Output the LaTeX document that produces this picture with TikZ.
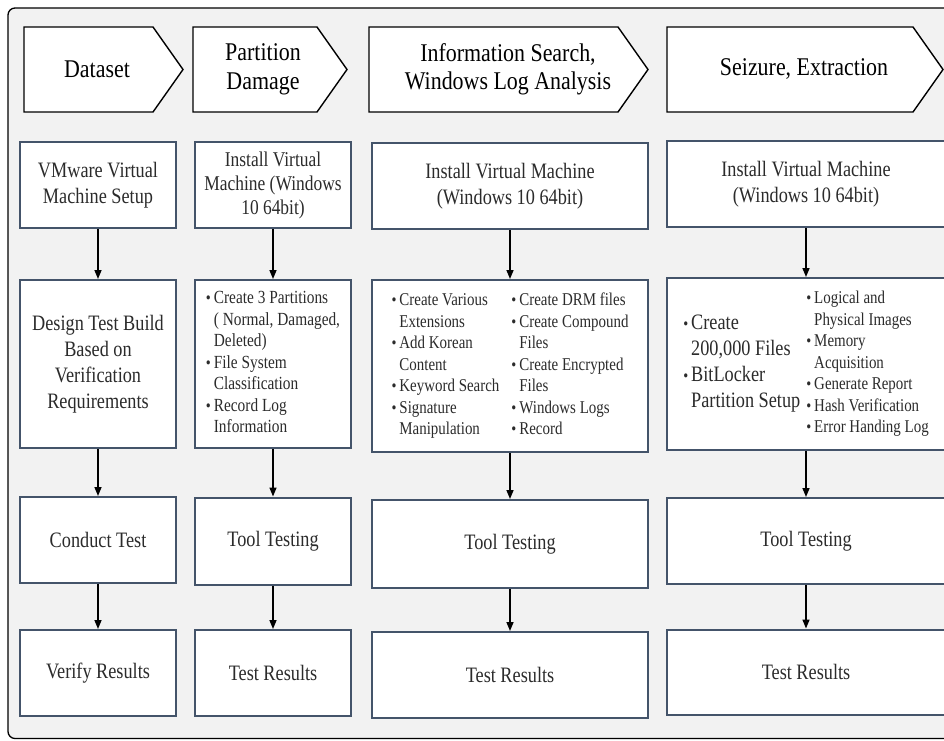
\documentclass[tikz,border=0pt]{standalone}
\usepackage{fontspec}
\setmainfont[FakeStretch=0.83]{Liberation Serif}
\newfontfamily\headfont[FakeStretch=0.86]{Liberation Serif}
\usepackage{xcolor}
\usetikzlibrary{arrows.meta, positioning}
\definecolor{panel}{HTML}{F2F2F2}
\definecolor{boxline}{HTML}{44546A}
\definecolor{ink}{HTML}{2B2B2B}
\def\headTop{27}
\def\headBot{112}
\def\tipLen{30}
\newcommand{\bul}{{\fontsize{17}{17}\selectfont\textbullet}}
\newcommand{\headarrow}[5]{%
% #1 = node name, #2 = left x, #3 = tip x, #4 = text x, #5 = text
\draw[headline]
(#2,\headTop) -- ({#3-\tipLen},\headTop)
-- (#3,{(\headTop+\headBot)/2})
-- ({#3-\tipLen},\headBot) -- (#2,\headBot) -- cycle;
\node[headtext] (#1) at (#4,{(\headTop+\headBot)/2}) {#5};
}

\begin{document}
\begin{tikzpicture}[
    x=1pt, y=-1pt,
    line width=1.5pt,
    >={Triangle[length=9pt,width=7pt]},
    basebox/.style={draw=boxline, line width=2pt, fill=white, text=ink, inner sep=0pt},
    procbox/.style={basebox, align=center, font=\fontsize{22}{25.5}\selectfont},
    listbox/.style={basebox, font=\fontsize{18}{21.5}\selectfont},
    headline/.style={draw=black, line width=1.4pt, fill=white},
    headtext/.style={align=center, font=\headfont\fontsize{25.5}{28.5}\selectfont}
]
\path[use as bounding box] (0,0) rectangle (944,740);
\clip (0,0) rectangle (944,740);
\fill[white] (0,0) rectangle (944,740);
\draw[fill=panel, line width=1.3pt, rounded corners=7pt] (8,8) rectangle (990,738.5);

% stage headers
\headarrow{ha}{24}{183}{97}{Dataset}
\headarrow{hb}{193}{347}{263}{Partition\\Damage}
\headarrow{hc}{369}{648}{508}{Information Search,\\Windows Log Analysis}
\headarrow{hd}{667}{943}{804}{Seizure, Extraction}

% column a
\node[procbox, minimum width=156pt, minimum height=86pt] (a1) at (98,185) {VMware Virtual\\Machine Setup};
\node[procbox, minimum width=156pt, minimum height=168pt, font=\fontsize{22}{26}\selectfont] (a2) at (98,364)
    {Design Test Build\\Based on\\Verification\\Requirements};
\node[procbox, minimum width=156pt, minimum height=86pt] (a3) at (98,540) {Conduct Test};
\node[procbox, minimum width=156pt, minimum height=86pt] (a4) at (98,673) {Verify Results};

% column b
\node[procbox, minimum width=156pt, minimum height=86pt, font=\fontsize{21}{24}\selectfont] (b1) at (273,185)
    {Install Virtual\\Machine (Windows\\10 64bit)};
\node[listbox, minimum width=156pt, minimum height=168pt, font=\fontsize{18.5}{21.5}\selectfont] (b2) at (273,364) {%
\begin{tabular}{@{}l@{\hspace{3pt}}l@{}}
\bul & Create 3 Partitions\\
     & ( Normal, Damaged,\\
     & Deleted)\\
\bul & File System\\
     & Classification\\
\bul & Record Log\\
     & Information
\end{tabular}};
\node[procbox, minimum width=156pt, minimum height=87pt] (b3) at (273,541) {Tool Testing};
\node[procbox, minimum width=156pt, minimum height=86pt] (b4) at (273,673) {Test Results};

% column c
\node[procbox, minimum width=276pt, minimum height=86pt] (c1) at (510,186) {Install Virtual Machine\\(Windows 10 64bit)};
\node[listbox, minimum width=276pt, minimum height=172pt] (c2) at (510,366) {%
\begin{tabular}{@{}l@{\hspace{3pt}}l@{\hspace{12pt}}l@{\hspace{3pt}}l@{}}
\bul & Create Various & \bul & Create DRM files\\
     & Extensions     & \bul & Create Compound\\
\bul & Add Korean     &      & Files\\
     & Content        & \bul & Create Encrypted\\
\bul & Keyword Search &      & Files\\
\bul & Signature      & \bul & Windows Logs\\
     & Manipulation   & \bul & Record
\end{tabular}};
\node[procbox, minimum width=276pt, minimum height=88pt] (c3) at (510,544) {Tool Testing};
\node[procbox, minimum width=276pt, minimum height=86pt] (c4) at (510,675) {Test Results};

% column d
\node[procbox, minimum width=278pt, minimum height=86pt] (d1) at (806,184) {Install Virtual Machine\\(Windows 10 64bit)};
\node[listbox, minimum width=278pt, minimum height=172pt] (d2) at (806,364) {%
{\fontsize{22}{26}\selectfont
\begin{tabular}{@{}l@{\hspace{3pt}}l@{}}
\bul & Create\\
     & 200,000 Files\\
\bul & BitLocker\\
     & Partition Setup
\end{tabular}}\hspace{6pt}%
\begin{tabular}{@{}l@{\hspace{3pt}}l@{}}
\bul & Logical and\\
     & Physical Images\\
\bul & Memory\\
     & Acquisition\\
\bul & Generate Report\\
\bul & Hash Verification\\
\bul & Error Handing Log
\end{tabular}};
\node[procbox, minimum width=278pt, minimum height=86pt] (d3) at (806,541) {Tool Testing};
\node[procbox, minimum width=278pt, minimum height=85pt] (d4) at (806,672) {Test Results};

% flow arrows
\draw[->] (a1) -- (a2);
\draw[->] (a2) -- (a3);
\draw[->] (a3) -- (a4);
\draw[->] (b1) -- (b2);
\draw[->] (b2) -- (b3);
\draw[->] (b3) -- (b4);
\draw[->] (c1) -- (c2);
\draw[->] (c2) -- (c3);
\draw[->] (c3) -- (c4);
\draw[->] (d1) -- (d2);
\draw[->] (d2) -- (d3);
\draw[->] (d3) -- (d4);
\end{tikzpicture}
\end{document}
